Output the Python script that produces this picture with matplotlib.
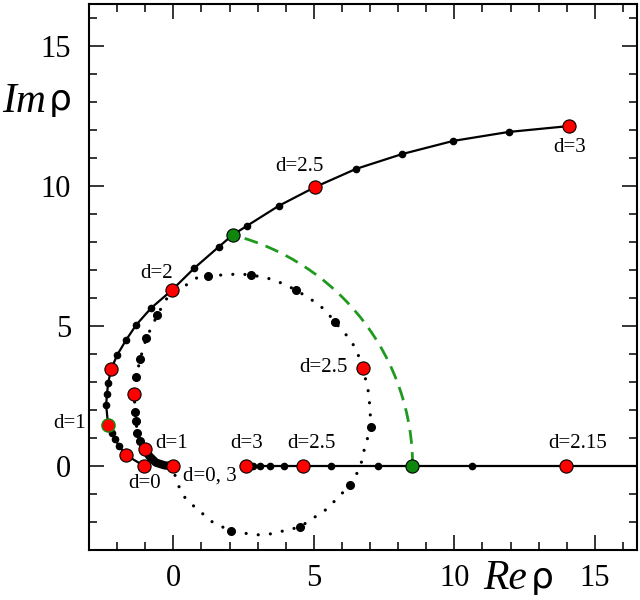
import numpy as np
import matplotlib
matplotlib.use("Agg")
import matplotlib.pyplot as plt
from matplotlib.patches import Arc

SERIF = "Liberation Serif"

# upper solid branch
sol_x = [-1.04, -1.68, -1.93, -2.07, -2.18, -2.32, -2.39, -2.36, -2.32, -2.21, -2.0, -1.68,
         -1.32, -0.79, -0.04, 0.75, 1.61, 2.11, 2.61, 3.75, 5.04, 6.5, 8.14, 9.96, 11.93, 14.07]
sol_y = [0.0, 0.39, 0.71, 0.96, 1.18, 1.46, 2.18, 2.57, 2.96, 3.46, 3.96, 4.5,
         5.04, 5.64, 6.29, 7.07, 7.82, 8.25, 8.57, 9.29, 9.96, 10.61, 11.14, 11.61, 11.93, 12.14]
sol_red_x = [-1.04, -1.68, -2.21, -0.04, 5.04, 14.07]
sol_red_y = [0.0, 0.39, 3.46, 6.29, 9.96, 12.14]
sol_dot_x = [-1.93, -2.07, -2.18, -2.39, -2.36, -2.32, -2.0, -1.68, -1.32, -0.79, 0.75, 1.61,
             2.61, 3.75, 6.5, 8.14, 9.96, 11.93]
sol_dot_y = [0.71, 0.96, 1.18, 2.18, 2.57, 2.96, 3.96, 4.5, 5.04, 5.64, 7.07, 7.82,
             8.57, 9.29, 10.61, 11.14, 11.61, 11.93]
d1_x, d1_y = -2.32, 1.46
green_top = (2.11, 8.25)

# dense part of the loop between d=0 and d=1
thick_x = [0.0, -0.3, -0.62, -0.86, -1.01]
thick_y = [0.0, 0.02, 0.12, 0.36, 0.62]

# dotted loop
loop_x = [-1.01, -1.18, -1.29, -1.32, -1.36, -1.39, -1.32, -1.18, -0.96, -0.57, -0.25, 0.1,
          0.82, 1.25, 1.71, 2.36, 2.75, 3.18, 3.61, 4.36, 5.1, 5.43, 5.75, 6.25, 6.5, 6.75,
          6.96, 7.0, 7.04, 6.82, 6.71, 6.54, 6.29, 5.46, 4.5, 4.04, 3.43, 2.96, 2.46, 2.04,
          1.39, 1.04, 0.68, 0.39, 0.1, 0.0]
loop_y = [0.62, 0.89, 1.18, 1.61, 1.93, 2.57, 3.18, 3.82, 4.57, 5.39, 5.96, 6.22,
          6.71, 6.79, 6.82, 6.86, 6.82, 6.75, 6.64, 6.29, 5.82, 5.54, 5.14, 4.57, 4.18, 3.5,
          2.57, 1.96, 1.39, 0.71, 0.18, -0.25, -0.68, -1.54, -2.18, -2.29, -2.43, -2.46, -2.39, -2.32,
          -2.0, -1.7, -1.39, -1.1, -0.54, 0.0]
loop_dot_x = [-1.18, -1.29, -1.32, -1.36, -1.32, -1.18, -0.96, -0.57, 1.25, 2.75, 4.36, 5.75,
              7.04, 6.29, 4.5, 2.04]
loop_dot_y = [0.89, 1.18, 1.61, 1.93, 3.18, 3.82, 4.57, 5.39, 6.79, 6.82, 6.29, 5.14,
              1.39, -0.68, -2.18, -2.32]
loop_red_x = [0.0, -1.01, -1.39, 6.75]
loop_red_y = [0.0, 0.62, 2.57, 3.5]

# real axis branch
line_x = [2.6, 2.83, 3.1, 3.45, 3.94, 4.6, 5.6, 7.28, 8.5, 10.64, 13.96, 16.5]
line_dot_x = [2.83, 3.1, 3.45, 3.94, 5.6, 7.28, 10.64]
line_red_x = [2.6, 4.6, 13.96]
green_axis = 8.5

labels = [
    ("d=1", -3.68, 1.5), ("d=1", -0.07, 0.79), ("d=0", -1.04, -0.61),
    ("d=0, 3", 1.29, -0.36), ("d=3", 2.6, 0.79), ("d=2.5", 4.9, 0.79),
    ("d=2.15", 14.4, 0.79), ("d=2.5", 5.36, 3.5), ("d=2", -0.6, 6.89),
    ("d=2.5", 4.5, 10.71), ("d=3", 14.1, 11.36),
]

fig = plt.figure(figsize=(6.4, 6.0), dpi=100)
ax = fig.add_axes([89 / 640, 50 / 600, 548 / 640, 546 / 600])

red_kw = dict(marker="o", ls="none", ms=9.5, mfc="red", mec="black", mew=0.8, zorder=6)

# dotted loop
ax.plot(loop_x, loop_y, color="black", lw=2.3, ls=(0, (0.01, 3.8)),
        dash_capstyle="round", zorder=3)
ax.plot(thick_x, thick_y, color="black", lw=6, solid_capstyle="round", zorder=3)
ax.plot(loop_dot_x, loop_dot_y, "o", color="black", ms=5.5, zorder=4)
ax.plot(loop_red_x, loop_red_y, **red_kw)

# solid branch
ax.plot(sol_x, sol_y, color="black", lw=1.6, zorder=3)
ax.plot(sol_dot_x, sol_dot_y, "o", color="black", ms=4.5, zorder=4)
ax.plot(sol_red_x, sol_red_y, **red_kw)
ax.plot([d1_x], [d1_y], marker="o", ms=9.5, mfc="red", mec="#128a12", mew=1.0, zorder=6)

# real axis
ax.plot(line_x, np.zeros(len(line_x)), color="black", lw=1.6, zorder=3)
ax.plot(line_dot_x, np.zeros(len(line_dot_x)), "o", color="black", ms=4.5, zorder=4)
ax.plot(line_red_x, np.zeros(len(line_red_x)), **red_kw)

# green dashed arc between the two green points
r = np.hypot(*green_top)
ang = np.degrees(np.arctan2(green_top[1], green_top[0]))
ax.add_patch(Arc((0, 0), 2 * r, 2 * r, theta1=0, theta2=ang, color="#1f9a1f",
                 lw=2.0, ls=(0, (5, 3)), zorder=2))
ax.plot([green_top[0], green_axis], [green_top[1], 0], "o", ls="none", ms=9.5,
        mfc="#0f870f", mec="black", mew=0.8, zorder=6)

for txt, x, y in labels:
    ax.text(x, y, txt, ha="center", va="center", fontsize=15, family=SERIF,
            clip_on=False, zorder=7)

ax.set_xlim(-3, 16.5)
ax.set_ylim(-3, 16.5)
ax.set_xticks([0, 5, 10, 15])
ax.set_yticks([0, 5, 10, 15])
ax.set_xticks(np.arange(-2, 17, 1), minor=True)
ax.set_yticks(np.arange(-2, 17, 1), minor=True)
ax.tick_params(which="both", direction="in", top=True, right=True, width=1.1)
ax.tick_params(which="major", length=11)
ax.tick_params(which="minor", length=6)
ax.tick_params(axis="x", which="major", pad=10)
ax.tick_params(axis="y", which="major", pad=13)
for lab in ax.get_xticklabels() + ax.get_yticklabels():
    lab.set_family(SERIF)
    lab.set_fontsize(22)
for s in ax.spines.values():
    s.set_linewidth(1.5)

fig.text(2 / 640, 1 - 112 / 600, "Im", family=SERIF, style="italic", fontsize=30,
         ha="left", va="baseline")
fig.text(49 / 640, 1 - 110 / 600, "ρ", family="DejaVu Sans", fontsize=26,
         ha="left", va="baseline")
fig.text(483 / 640, 1 - 589 / 600, "Re", family=SERIF, style="italic", fontsize=30,
         ha="left", va="baseline")
fig.text(531 / 640, 1 - 588 / 600, "ρ", family="DejaVu Sans", fontsize=26,
         ha="left", va="baseline")

fig.savefig("out.png", dpi=100)
